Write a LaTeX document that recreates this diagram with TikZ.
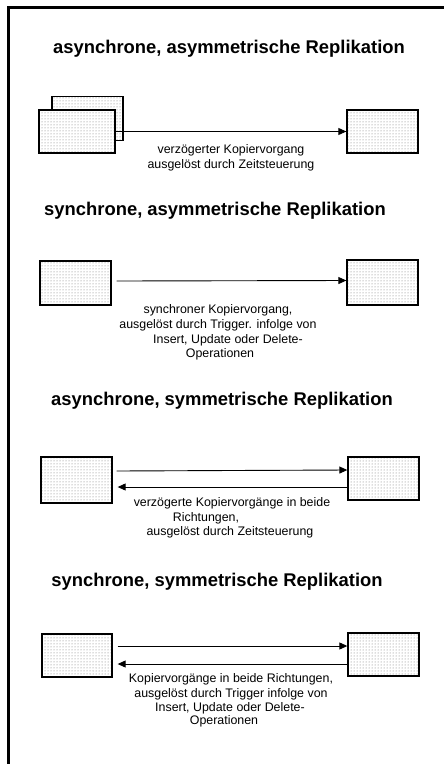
\documentclass[tikz,border=0pt]{standalone}
\usepackage{fontspec}
\setmainfont{Liberation Sans}
\usetikzlibrary{arrows.meta,patterns}
\begin{document}
\begin{tikzpicture}[x=1pt,y=-1pt,
  db/.style={draw=black, line width=1.3pt, rectangle, inner sep=0pt,
    minimum width=71pt, minimum height=44pt,
    preaction={fill=white}, pattern=dots, pattern color=black!55},
  heading/.style={font=\bfseries\fontsize{18.4}{22}\selectfont, anchor=base, inner sep=0pt},
  note/.style={font=\fontsize{12.4}{14.6}\selectfont, anchor=base, inner sep=0pt},
  flow/.style={line width=0.9pt, -{Triangle[length=8pt,width=7pt]}},
  frame/.style={line width=3.3pt, line cap=rect},
]
\useasboundingbox (0,0) rectangle (444,764);

% open frame: left and top edges
\coordinate (fbl) at (8.5,764);
\coordinate (ftl) at (8.5,7.5);
\coordinate (ftr) at (444,7.5);
\draw[frame] (fbl) -- (ftl) -- (ftr);

% ---- asynchronous, asymmetric ----
\node[heading] (h1) at (229,53) {asynchrone, asymmetrische Replikation};
\node[db] (s1back) at (87.5,118.5) {};
\node[db, minimum width=76pt, minimum height=43pt] (s1src) at (77,131.5) {};
\node[db, minimum height=43pt] (s1dst) at (382.5,131.5) {};
\draw[flow] (s1src.east) -- (s1dst.west);
\node[note] (n1a) at (231,153) {verzögerter Kopiervorgang};
\node[note] (n1b) at (231,168) {ausgelöst durch Zeitsteuerung};

% ---- synchronous, asymmetric ----
\node[heading] (h2) at (215,215) {synchrone, asymmetrische Replikation};
\node[db] (s2src) at (75.5,283) {};
\node[db, minimum height=45pt] (s2dst) at (382.5,282.5) {};
\draw[flow] ([xshift=5pt,yshift=2pt]s2src.east) -- ([yshift=2pt]s2dst.west);
\node[note] (n2a) at (218,313) {synchroner Kopiervorgang,};
\node[note] (n2b) at (218,328) {ausgelöst durch Trigger. infolge von};
\node[note] (n2c) at (228,343) {Insert, Update oder Delete-};
\node[note] (n2d) at (220,357) {Operationen};

% ---- asynchronous, symmetric ----
\node[heading] (h3) at (222,405) {asynchrone, symmetrische Replikation};
\node[db, minimum height=46pt] (s3a) at (76.5,480) {};
\node[db, minimum height=43pt] (s3b) at (383.5,478.5) {};
\draw[flow] ([xshift=4pt,yshift=9pt]s3a.east) -- ([yshift=8.5pt]s3b.west);
\draw[flow] ([yshift=-8.5pt]s3b.west) -- ([xshift=5pt,yshift=-7pt]s3a.east);
\node[note] (n3a) at (232,506) {verzögerte Kopiervorgänge in beide};
\node[note] (n3b) at (206,521) {Richtungen,};
\node[note] (n3c) at (230,535) {ausgelöst durch Zeitsteuerung};

% ---- synchronous, symmetric ----
\node[heading] (h4) at (217,586) {synchrone, symmetrische Replikation};
\node[db, minimum width=70pt, minimum height=43pt] (s4a) at (77,655.5) {};
\node[db, minimum height=43pt] (s4b) at (383.5,654.5) {};
\draw[flow] ([xshift=5pt,yshift=9.5pt]s4a.east) -- ([yshift=8.5pt]s4b.west);
\draw[flow] ([yshift=-9.5pt]s4b.west) -- ([xshift=5pt,yshift=-8.5pt]s4a.east);
\node[note] (n4a) at (231,682) {Kopiervorgänge in beide Richtungen,};
\node[note] (n4b) at (231,697) {ausgelöst durch Trigger infolge von};
\node[note] (n4c) at (230,711) {Insert, Update oder Delete-};
\node[note] (n4d) at (224,724) {Operationen};
\end{tikzpicture}
\end{document}
